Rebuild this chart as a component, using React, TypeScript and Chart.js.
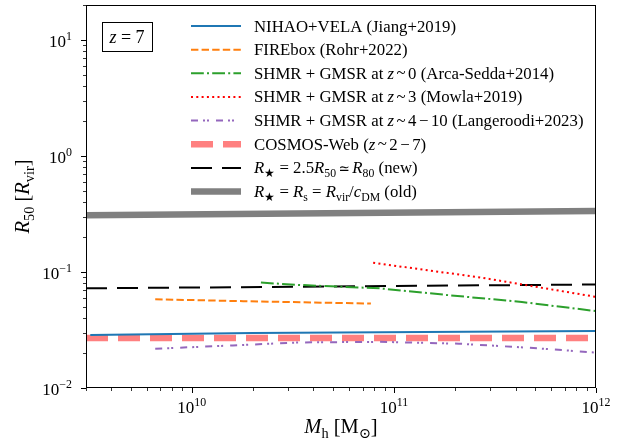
import React, { useEffect, useRef } from 'react';
import { Chart, registerables } from 'chart.js';

Chart.register(...registerables);

// ---------- data ----------
const nihaoMh = [3.15e9, 2e10, 1e12];
const nihaoR = [0.0286, 0.0298, 0.031];

const fireboxMh = [6.6e9, 1.8e10, 7.7e10];
const fireboxR = [0.0582, 0.056, 0.0534];

const arcaMh = [2.2e10, 3.4e10, 8.5e10, 1.9e11, 4.3e11, 1e12];
const arcaR = [0.081, 0.0773, 0.0723, 0.0629, 0.0551, 0.046];

const mowlaMh = [7.9e10, 2.7e11, 1e12];
const mowlaR = [0.12, 0.0895, 0.061];

const langMh = [6.6e9, 1.6e10, 3.4e10, 8.5e10, 2.1e11, 4.9e11, 1e12];
const langR = [0.0218, 0.0233, 0.0247, 0.025, 0.0241, 0.0221, 0.0202];

const cosmosMh = [3e9, 1e12];
const cosmosR = [0.027, 0.027];

const newMh = [3e9, 1e12];
const newR = [0.0723, 0.078];

const oldMh = [3e9, 1e12];
const oldR = [0.308, 0.336];

const xMin = 3e9;
const xMax = 1e12;
const yMin = 0.01;
const yMax = 20;
const xTickExps = [10, 11, 12];
const yTickExps = [-2, -1, 0, 1];
const zLabel = '7';

// ---------- rich text helpers ----------
type Seg = { t: string; it?: boolean; sub?: boolean; sup?: boolean; pad?: number; sc?: number; fam?: string; dy?: number };
const FAM = '"Liberation Serif", "DejaVu Serif", serif';

function segSize(s: Seg, size: number) {
  return (s.sub || s.sup ? size * 0.7 : size) * (s.sc || 1);
}
function segFont(s: Seg, size: number) {
  return `${s.it ? 'italic ' : ''}${segSize(s, size)}px ${s.fam || FAM}`;
}
function richWidth(ctx: CanvasRenderingContext2D, segs: Seg[], size: number) {
  let w = 0;
  for (const s of segs) {
    ctx.font = segFont(s, size);
    w += ctx.measureText(s.t).width + 2 * (s.pad || 0);
  }
  return w;
}
function drawRich(
  ctx: CanvasRenderingContext2D,
  segs: Seg[],
  x: number,
  y: number,
  size: number,
  align: 'left' | 'center' | 'right' = 'left'
) {
  const w = richWidth(ctx, segs, size);
  let cx = align === 'left' ? x : align === 'center' ? x - w / 2 : x - w;
  ctx.textAlign = 'left';
  ctx.textBaseline = 'alphabetic';
  for (const s of segs) {
    ctx.font = segFont(s, size);
    const dy = (s.sub ? size * 0.22 : s.sup ? -size * 0.42 : 0) + (s.dy || 0);
    cx += s.pad || 0;
    ctx.fillText(s.t, cx, y + dy);
    cx += ctx.measureText(s.t).width + (s.pad || 0);
  }
}

const SIM: Seg = { t: '~', pad: 2.5, dy: -0.5 };
const MINUS: Seg = { t: '\u2212', pad: 2.5 };
const SIMEQ: Seg = { t: '\u2243', pad: 2.5, sc: 0.8, fam: '"DejaVu Serif", serif' };

const toPts = (xs: number[], ys: number[]) => xs.map((x, i) => ({ x, y: ys[i] }));

type Series = {
  label: string;
  segs: Seg[];
  xs: number[];
  ys: number[];
  color: string;
  width: number;
  dash: number[];
};

const series: Series[] = [
  {
    label: 'NIHAO+VELA (Jiang+2019)',
    segs: [{ t: 'NIHAO+VELA (Jiang+2019)' }],
    xs: nihaoMh, ys: nihaoR, color: '#1f77b4', width: 2, dash: [],
  },
  {
    label: 'FIREbox (Rohr+2022)',
    segs: [{ t: 'FIREbox (Rohr+2022)' }],
    xs: fireboxMh, ys: fireboxR, color: '#ff7f0e', width: 2, dash: [7.4, 3.2],
  },
  {
    label: 'SHMR + GMSR at z ~ 0 (Arca-Sedda+2014)',
    segs: [{ t: 'SHMR + GMSR at ' }, { t: 'z', it: true }, SIM, { t: '0 (Arca-Sedda+2014)' }],
    xs: arcaMh, ys: arcaR, color: '#2ca02c', width: 2, dash: [12.8, 3.2, 2, 3.2],
  },
  {
    label: 'SHMR + GMSR at z ~ 3 (Mowla+2019)',
    segs: [{ t: 'SHMR + GMSR at ' }, { t: 'z', it: true }, SIM, { t: '3 (Mowla+2019)' }],
    xs: mowlaMh, ys: mowlaR, color: '#ff0000', width: 2, dash: [2, 3.3],
  },
  {
    label: 'SHMR + GMSR at z ~ 4 - 10 (Langeroodi+2023)',
    segs: [{ t: 'SHMR + GMSR at ' }, { t: 'z', it: true }, SIM, { t: '4' }, MINUS, { t: '10 (Langeroodi+2023)' }],
    xs: langMh, ys: langR, color: '#9467bd', width: 2, dash: [7, 5, 2, 2, 2, 7],
  },
  {
    label: 'COSMOS-Web (z ~ 2 - 7)',
    segs: [{ t: 'COSMOS-Web (' }, { t: 'z', it: true }, SIM, { t: '2' }, MINUS, { t: '7)' }],
    xs: cosmosMh, ys: cosmosR, color: '#ff8080', width: 6.5, dash: [22, 10],
  },
  {
    label: 'R* = 2.5R50 ~ R80 (new)',
    segs: [
      { t: 'R', it: true }, { t: '\u2605', sub: true }, { t: ' = 2.5' },
      { t: 'R', it: true }, { t: '50', sub: true }, SIMEQ,
      { t: 'R', it: true }, { t: '80', sub: true }, { t: ' (new)' },
    ],
    xs: newMh, ys: newR, color: '#000000', width: 2, dash: [21, 10],
  },
  {
    label: 'R* = Rs = Rvir/cDM (old)',
    segs: [
      { t: 'R', it: true }, { t: '\u2605', sub: true }, { t: ' = ' },
      { t: 'R', it: true }, { t: 's', sub: true }, { t: ' = ' },
      { t: 'R', it: true }, { t: 'vir', sub: true }, { t: '/' },
      { t: 'c', it: true }, { t: 'DM', sub: true }, { t: ' (old)' },
    ],
    xs: oldMh, ys: oldR, color: '#808080', width: 6.5, dash: [],
  },
];

const decorPlugin = {
  id: 'decor',
  afterDraw(chart: any) {
    const ctx: CanvasRenderingContext2D = chart.ctx;
    const { left, right, top, bottom } = chart.chartArea;
    const xs = chart.scales.x;
    const ys = chart.scales.y;
    ctx.save();
    ctx.fillStyle = '#000';
    ctx.strokeStyle = '#000';

    // ticks
    const tick = (px: number, py: number, dx: number, dy: number, w: number) => {
      ctx.lineWidth = w;
      ctx.beginPath();
      ctx.moveTo(px, py);
      ctx.lineTo(px + dx, py + dy);
      ctx.stroke();
    };
    for (let e = 9; e <= 12; e++) {
      for (let m = 1; m <= 9; m++) {
        const v = m * Math.pow(10, e);
        if (v < xMin * 0.999 || v > xMax * 1.001) continue;
        const px = Math.round(xs.getPixelForValue(v)) + 0.5;
        if (m === 1) tick(px, bottom, 0, 5, 1);
        else tick(px, bottom, 0, 3, 0.8);
      }
    }
    for (let e = -2; e <= 1; e++) {
      for (let m = 1; m <= 9; m++) {
        const v = m * Math.pow(10, e);
        if (v < yMin * 0.999 || v > yMax * 1.001) continue;
        const py = Math.round(ys.getPixelForValue(v)) + 0.5;
        if (m === 1) tick(left, py, -5, 0, 1);
        else tick(left, py, -3, 0, 0.8);
      }
    }

    // frame
    ctx.lineWidth = 1;
    ctx.strokeRect(Math.round(left) + 0.5, Math.round(top) + 0.5, Math.round(right - left) - 1, Math.round(bottom - top) - 1);

    // tick labels
    const TS = 17;
    for (const e of xTickExps) {
      const px = xs.getPixelForValue(Math.pow(10, e));
      drawRich(ctx, [{ t: '10' }, { t: String(e), sup: true }], px, bottom + 25, TS, 'center');
    }
    for (const e of yTickExps) {
      const py = ys.getPixelForValue(Math.pow(10, e));
      const t = e < 0 ? '\u2212' + Math.abs(e) : String(e);
      drawRich(ctx, [{ t: '10' }, { t, sup: true }], left - 14, py + 7, TS, 'right');
    }

    // axis titles
    const AS = 20.5;
    drawRich(
      ctx,
      [{ t: 'M', it: true }, { t: 'h', sub: true }, { t: ' [M' }, { t: '\u2299', sub: true }, { t: ']' }],
      (left + right) / 2, 433, AS, 'center'
    );
    ctx.save();
    ctx.translate(29, (top + bottom) / 2);
    ctx.rotate(-Math.PI / 2);
    drawRich(
      ctx,
      [{ t: 'R', it: true }, { t: '50', sub: true }, { t: ' [' }, { t: 'R', it: true }, { t: 'vir', sub: true }, { t: ']' }],
      0, 0, AS, 'center'
    );
    ctx.restore();

    // z box
    ctx.fillStyle = '#fff';
    ctx.fillRect(102, 22, 50, 29);
    ctx.lineWidth = 1;
    ctx.strokeStyle = '#000';
    ctx.strokeRect(102.5, 22.5, 50, 29);
    ctx.fillStyle = '#000';
    drawRich(ctx, [{ t: 'z', it: true }, { t: ' = ' + zLabel }], 127, 43, 18, 'center');

    // legend
    const LS = 16.8;
    series.forEach((s, i) => {
      const cy = 26 + i * 23.65;
      ctx.strokeStyle = s.color;
      ctx.lineWidth = s.width;
      ctx.setLineDash(s.dash);
      ctx.lineDashOffset = 0;
      ctx.lineCap = 'butt';
      ctx.beginPath();
      ctx.moveTo(191, cy);
      ctx.lineTo(241, cy);
      ctx.stroke();
      ctx.setLineDash([]);
      ctx.fillStyle = '#000';
      drawRich(ctx, s.segs, 254, cy + 5.5, LS, 'left');
    });
    ctx.restore();
  },
};

export default function App() {
  const ref = useRef<HTMLCanvasElement | null>(null);
  useEffect(() => {
    const canvas = ref.current;
    if (!canvas) return;
    const chart = new Chart(canvas, {
      type: 'line',
      data: {
        datasets: series.map((s) => ({
          label: s.label,
          data: toPts(s.xs, s.ys),
          borderColor: s.color,
          backgroundColor: s.color,
          borderWidth: s.width,
          borderDash: s.dash,
          borderCapStyle: 'butt',
          pointRadius: 0,
          fill: false,
          tension: 0,
        })),
      },
      options: {
        animation: false,
        responsive: false,
        maintainAspectRatio: false,
        layout: { padding: { left: 86, right: 30, top: 5, bottom: 52 } },
        scales: {
          x: { type: 'logarithmic', min: xMin, max: xMax, display: false },
          y: { type: 'logarithmic', min: yMin, max: yMax, display: false },
        },
        plugins: { legend: { display: false }, tooltip: { enabled: false } },
      },
      plugins: [decorPlugin],
    } as any);
    return () => chart.destroy();
  }, []);
  return (
    <div style={{ position: 'absolute', left: 0, top: 0, width: 626, height: 440, background: '#fff' }}>
      <canvas ref={ref} width={626} height={440} style={{ display: 'block' }} />
    </div>
  );
}
